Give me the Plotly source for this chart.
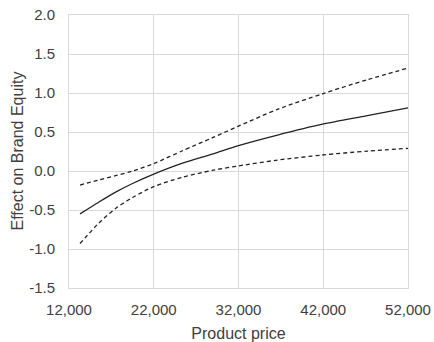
import plotly.graph_objects as go

price = [13300, 15500, 17500, 19500, 22000, 25400, 29000, 32000, 36600, 41900, 47200, 52000]
effect = [-0.55, -0.40, -0.27, -0.16, -0.04, 0.10, 0.22, 0.325, 0.46, 0.60, 0.71, 0.81]
upper = [-0.18, -0.115, -0.06, 0.00, 0.095, 0.26, 0.43, 0.575, 0.79, 0.99, 1.17, 1.32]
lower = [-0.93, -0.67, -0.48, -0.34, -0.20, -0.08, 0.01, 0.065, 0.14, 0.205, 0.255, 0.29]

x_ticks = [12000, 22000, 32000, 42000, 52000]
x_labels = ["12,000", "22,000", "32,000", "42,000", "52,000"]
y_ticks = [-1.5, -1.0, -0.5, 0.0, 0.5, 1.0, 1.5, 2.0]
y_labels = ["-1.5", "-1.0", "-0.5", "0.0", "0.5", "1.0", "1.5", "2.0"]

line_col = "#222222"
fig = go.Figure()
fig.add_trace(go.Scatter(x=price, y=upper, mode="lines",
                         line=dict(color=line_col, width=1.3, dash="4px,3px", shape="spline", smoothing=0.8)))
fig.add_trace(go.Scatter(x=price, y=effect, mode="lines",
                         line=dict(color=line_col, width=1.3, shape="spline", smoothing=0.8)))
fig.add_trace(go.Scatter(x=price, y=lower, mode="lines",
                         line=dict(color=line_col, width=1.3, dash="4px,3px", shape="spline", smoothing=0.8)))

grid = "#d9d9d9"
L, R, T, B, W, H = 69, 26, 15, 54, 434, 342
pw = W - L - R
fig.update_layout(
    width=W, height=H,
    margin=dict(l=L, r=R, t=T, b=B, autoexpand=False),
    paper_bgcolor="white", plot_bgcolor="white",
    showlegend=False,
    font=dict(family="Liberation Sans, Arial, sans-serif", size=15, color="#404040"),
    xaxis=dict(range=[12000, 52000], tickvals=x_ticks, ticktext=x_labels,
               showgrid=True, gridcolor=grid, gridwidth=1, zeroline=False,
               showline=True, linecolor=grid, mirror=True, ticks="",
               ticklabelstandoff=8, automargin=False,
               title=dict(text="Product price", font=dict(size=16), standoff=10)),
    yaxis=dict(range=[-1.5, 2.0], tickvals=y_ticks, ticktext=y_labels,
               showgrid=True, gridcolor=grid, gridwidth=1, zeroline=False,
               showline=True, linecolor=grid, mirror=True, ticks="",
               ticklabelstandoff=10, automargin=False),
    annotations=[dict(text="Effect on Brand Equity", textangle=-90, showarrow=False,
                      xref="paper", yref="paper", x=(17 - L) / pw, y=0.5,
                      xanchor="center", yanchor="middle", font=dict(size=16))],
)
fig.write_html("out.html")
